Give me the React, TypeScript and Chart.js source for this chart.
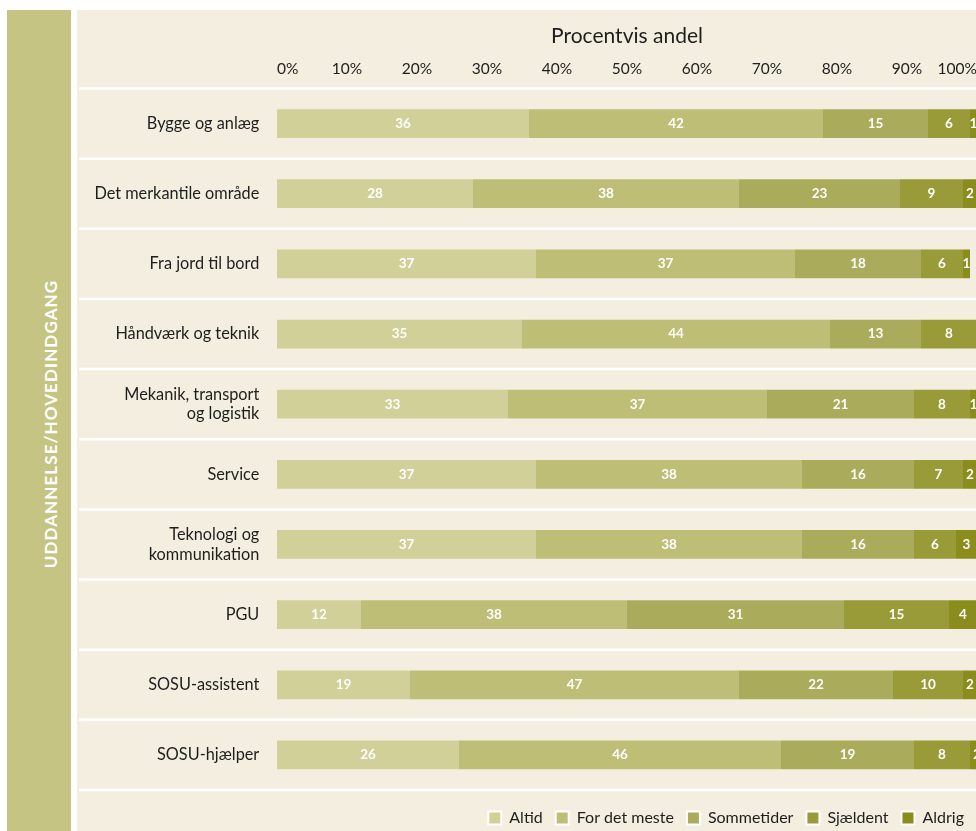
import React, { useEffect, useRef } from 'react';
import { Chart, registerables } from 'chart.js';

Chart.register(...registerables);

const categories: (string | string[])[] = [
  'Bygge og anlæg',
  'Det merkantile område',
  'Fra jord til bord',
  'Håndværk og teknik',
  ['Mekanik, transport', 'og logistik'],
  'Service',
  ['Teknologi og', 'kommunikation'],
  'PGU',
  'SOSU-assistent',
  'SOSU-hjælper',
];

const altid = [36, 28, 37, 35, 33, 37, 37, 12, 19, 26];
const forDetMeste = [42, 38, 37, 44, 37, 38, 38, 38, 47, 46];
const sommetider = [15, 23, 18, 13, 21, 16, 16, 31, 22, 19];
const sjaeldent = [6, 9, 6, 8, 8, 7, 6, 15, 10, 8];
const aldrig = [1, 2, 1, 1, 1, 2, 3, 4, 2, 2];

const seriesNames = ['Altid', 'For det meste', 'Sommetider', 'Sjældent', 'Aldrig'];
const seriesValues = [altid, forDetMeste, sommetider, sjaeldent, aldrig];
const seriesColors = ['#D1D098', '#BEBE77', '#ABAC5B', '#999A38', '#8A8D1B'];

const axisTitle = 'Procentvis andel';
const bandTitle = 'UDDANNELSE/HOVEDINDGANG';

const FONT = 'Lato, "DejaVu Sans", sans-serif';
const TEXT = '#1e1e1e';

const separatorPlugin = {
  id: 'rowSeparators',
  beforeDatasetsDraw(chart: any) {
    const y = chart.scales.y;
    const ctx = chart.ctx;
    const n = chart.data.labels.length;
    const step = y.getPixelForValue(1) - y.getPixelForValue(0);
    ctx.save();
    ctx.strokeStyle = '#ffffff';
    ctx.lineWidth = 2.5;
    for (let i = 0; i <= n; i++) {
      const py = y.getPixelForValue(i) - step / 2;
      ctx.beginPath();
      ctx.moveTo(2, py);
      ctx.lineTo(chart.width, py);
      ctx.stroke();
    }
    ctx.restore();
  },
};

const barLabelPlugin = {
  id: 'barLabels',
  afterDatasetsDraw(chart: any) {
    const ctx = chart.ctx;
    ctx.save();
    ctx.fillStyle = '#ffffff';
    ctx.font = `bold 13.5px ${FONT}`;
    ctx.textAlign = 'center';
    ctx.textBaseline = 'middle';
    chart.data.datasets.forEach((ds: any, di: number) => {
      const meta = chart.getDatasetMeta(di);
      meta.data.forEach((el: any, i: number) => {
        const p = el.getProps(['x', 'base', 'y'], true);
        ctx.fillText(String(ds.data[i]), (p.x + p.base) / 2, p.y);
      });
    });
    ctx.restore();
  },
};

function StackedChart() {
  const ref = useRef<HTMLCanvasElement | null>(null);

  useEffect(() => {
    if (!ref.current) return;
    const chart = new Chart(ref.current, {
      type: 'bar',
      data: {
        labels: categories as any,
        datasets: seriesNames.map((name, i) => ({
          label: name,
          data: seriesValues[i],
          backgroundColor: seriesColors[i],
          borderWidth: 0,
          barPercentage: 0.41,
          categoryPercentage: 1,
        })),
      },
      options: {
        indexAxis: 'y',
        responsive: false,
        animation: false,
        layout: { padding: 0 },
        scales: {
          x: {
            type: 'linear',
            position: 'top',
            stacked: true,
            min: 0,
            max: 100,
            ticks: {
              stepSize: 10,
              callback: (v: any) => `${v}%`,
              align: 'inner',
              padding: 10.5,
              font: { family: FONT, size: 15.5 },
              color: TEXT,
              maxRotation: 0,
              autoSkip: false,
            },
            grid: { display: false, drawTicks: false },
            border: { display: false },
            title: {
              display: true,
              text: axisTitle,
              font: { family: FONT, size: 21 },
              color: TEXT,
              padding: { top: 13.5, bottom: 0 },
            },
            afterFit: (s: any) => {
              s.height = 78.5;
              s.paddingLeft = 0;
              s.paddingRight = 0;
            },
          },
          xb: {
            type: 'linear',
            position: 'bottom',
            display: true,
            ticks: { display: false },
            grid: { display: false, drawTicks: false },
            border: { display: false },
            afterFit: (s: any) => {
              s.height = 7;
              s.paddingLeft = 0;
              s.paddingRight = 0;
            },
          },
          y: {
            type: 'category',
            stacked: true,
            offset: true,
            ticks: {
              font: { family: FONT, size: 16.3 },
              color: TEXT,
              padding: 17.7,
              autoSkip: false,
            },
            grid: { display: false, drawTicks: false },
            border: { display: false },
            afterFit: (s: any) => {
              s.width = 200;
            },
          },
        } as any,
        plugins: {
          tooltip: { enabled: false },
          legend: {
            position: 'bottom',
            align: 'end',
            labels: {
              boxWidth: 13,
              boxHeight: 13,
              padding: 13,
              color: TEXT,
              font: { family: FONT, size: 16 },
              generateLabels: (c: any) =>
                Chart.defaults.plugins.legend.labels
                  .generateLabels(c)
                  .map((it: any) => ({ ...it, strokeStyle: '#ffffff', lineWidth: 2 })),
            },
          },
        },
      } as any,
      plugins: [separatorPlugin, barLabelPlugin],
    });
    return () => chart.destroy();
  }, []);

  return <canvas ref={ref} width={900} height={826} style={{ display: 'block', width: 900, height: 826 }} />;
}

export default function App() {
  return (
    <div
      style={{
        position: 'fixed',
        left: 7,
        top: 10,
        width: 969,
        height: 821,
        overflow: 'hidden',
      }}
    >
      <div
        style={{
          position: 'absolute',
          left: 0,
          top: 0,
          width: 64,
          height: 821,
          background: '#C5C483',
        }}
      >
        <div
          style={{
            position: 'absolute',
            left: 43,
            top: 414,
            transform: 'translate(-50%, -50%) rotate(-90deg)',
            whiteSpace: 'nowrap',
            color: '#ffffff',
            fontFamily: FONT,
            fontWeight: 700,
            fontSize: 17,
            letterSpacing: '1.1px',
            lineHeight: 1,
          }}
        >
          {bandTitle}
        </div>
      </div>
      <div
        style={{
          position: 'absolute',
          left: 70,
          top: 0,
          width: 910,
          height: 826,
          background: '#F3EEDF',
        }}
      >
        <StackedChart />
      </div>
    </div>
  );
}
